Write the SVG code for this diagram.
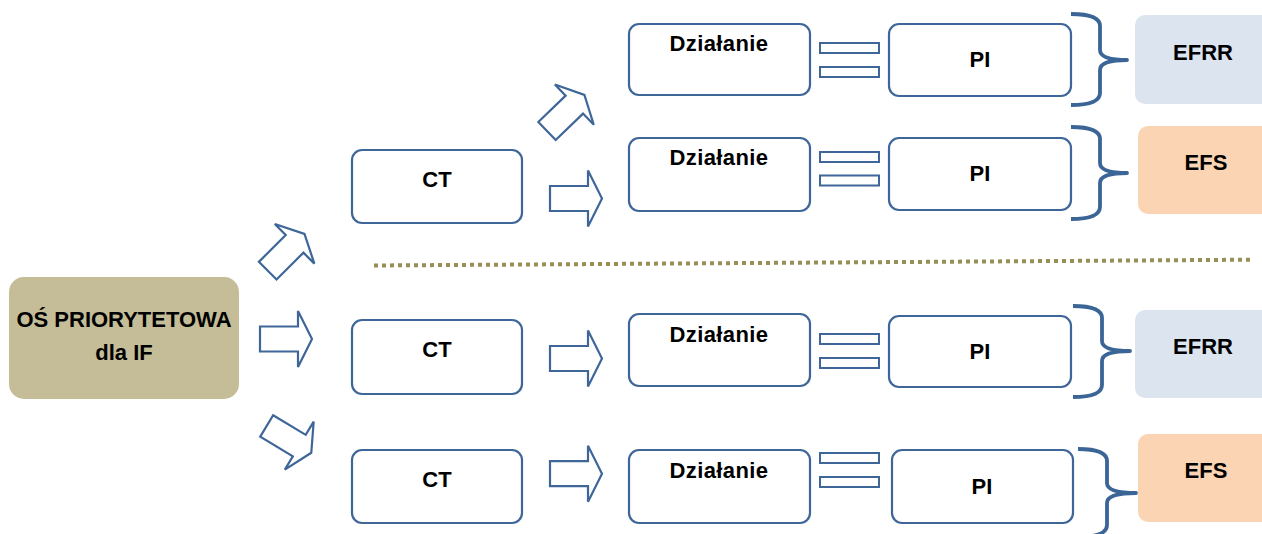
<svg xmlns="http://www.w3.org/2000/svg" xmlns:xlink="http://www.w3.org/1999/xlink" width="1262" height="534" viewBox="0 0 1262 534">
<style>
  .box{fill:#ffffff;stroke:#3E6699;stroke-width:2.2}
  .lbl{font-family:"Liberation Sans",Arial,sans-serif;font-weight:bold;font-size:22px;fill:#000000;text-anchor:middle}
  .sp{letter-spacing:0.4px}
  .arrow{fill:#ffffff;stroke:#3E6699;stroke-width:2.2;stroke-linejoin:miter}
  .eq{fill:#ffffff;stroke:#3E6699;stroke-width:2}
  .brace{fill:none;stroke:#3B6497;stroke-width:3.8;stroke-linecap:butt;stroke-linejoin:round}
  .sep{stroke:#988E56;stroke-width:4;stroke-dasharray:4 4;fill:none}
</style>
<defs>
  <path id="blk" d="M0,-12.5 H38 V-28 L52,0 L38,28 V12.5 H0 Z"/>
</defs>
<rect width="1262" height="534" fill="#ffffff"/>

<g id="separator">
  <line class="sep" x1="374" y1="265.5" x2="1252" y2="259.7"/>
</g>

<g id="os">
  <rect x="9" y="277" width="230" height="122" rx="15" fill="#C4BD97"/>
  <text class="lbl" x="124" y="327">OŚ PRIORYTETOWA</text>
  <text class="lbl" x="124" y="360">dla IF</text>
</g>

<g id="ct1"><rect class="box" x="352" y="150" width="170" height="73" rx="10"/><text class="lbl" x="437" y="187">CT</text></g>
<g id="ct2"><rect class="box" x="352" y="320" width="170" height="74" rx="10"/><text class="lbl" x="437" y="357">CT</text></g>
<g id="ct3"><rect class="box" x="352" y="450" width="170" height="73" rx="10"/><text class="lbl" x="437" y="487">CT</text></g>

<g id="dz1"><rect class="box" x="629" y="24" width="181" height="71" rx="10"/><text class="lbl sp" x="719" y="51">Działanie</text></g>
<g id="dz2"><rect class="box" x="629" y="138" width="181" height="73" rx="10"/><text class="lbl sp" x="719" y="165">Działanie</text></g>
<g id="dz3"><rect class="box" x="629" y="314" width="181" height="72" rx="10"/><text class="lbl sp" x="719" y="342">Działanie</text></g>
<g id="dz4"><rect class="box" x="629" y="450" width="181" height="73" rx="10"/><text class="lbl sp" x="719" y="478">Działanie</text></g>

<g id="pi1"><rect class="box" x="889" y="24" width="182" height="72" rx="10"/><text class="lbl" x="980" y="67">PI</text></g>
<g id="pi2"><rect class="box" x="889" y="138" width="182" height="72" rx="10"/><text class="lbl" x="980" y="181">PI</text></g>
<g id="pi3"><rect class="box" x="889" y="316" width="182" height="71" rx="10"/><text class="lbl" x="980" y="359">PI</text></g>
<g id="pi4"><rect class="box" x="892" y="450" width="181" height="73" rx="10"/><text class="lbl" x="982" y="494">PI</text></g>

<g id="efrr1"><rect x="1135" y="15" width="140" height="89" rx="10" fill="#DCE4F0"/><text class="lbl" x="1203" y="60">EFRR</text></g>
<g id="efs1"><rect x="1138" y="126" width="140" height="88" rx="10" fill="#FBD4B4"/><text class="lbl" x="1206" y="170">EFS</text></g>
<g id="efrr2"><rect x="1135" y="310" width="140" height="88" rx="10" fill="#DCE4F0"/><text class="lbl" x="1203" y="354">EFRR</text></g>
<g id="efs2"><rect x="1138" y="434" width="140" height="88" rx="10" fill="#FBD4B4"/><text class="lbl" x="1206" y="478">EFS</text></g>

<g id="connectors">
  <use xlink:href="#blk" class="arrow" transform="translate(267.7,270.7) rotate(-45)"/>
  <use xlink:href="#blk" class="arrow" transform="translate(260,339)"/>
  <use xlink:href="#blk" class="arrow" transform="translate(266.7,426) rotate(31)"/>
  <use xlink:href="#blk" class="arrow" transform="translate(547,131) rotate(-44)"/>
  <use xlink:href="#blk" class="arrow" transform="translate(550,198.5)"/>
  <use xlink:href="#blk" class="arrow" transform="translate(550,358.5)"/>
  <use xlink:href="#blk" class="arrow" transform="translate(550,473.7)"/>

  <rect class="eq" x="820" y="43" width="59" height="10"/>
  <rect class="eq" x="820" y="67" width="59" height="10"/>
  <rect class="eq" x="820" y="152" width="59" height="10"/>
  <rect class="eq" x="820" y="175.5" width="59" height="10"/>
  <rect class="eq" x="820" y="334" width="59" height="10"/>
  <rect class="eq" x="820" y="358" width="59" height="10"/>
  <rect class="eq" x="820" y="453" width="59" height="10"/>
  <rect class="eq" x="820" y="477" width="59" height="10"/>

  <path class="brace" d="M1071,14 Q1100,14 1100,26 V50 Q1100,60 1127,60 Q1100,60 1100,70 V93 Q1100,105 1071,105"/>
  <path class="brace" d="M1071,127 Q1100,127 1100,139 V163 Q1100,173 1127,173 Q1100,173 1100,183 V207 Q1100,219 1071,219"/>
  <path class="brace" d="M1073,306 Q1102,306 1102,318 V341 Q1102,351 1130,351 Q1102,351 1102,361 V385 Q1102,397 1073,397"/>
  <path class="brace" d="M1078,449 Q1107,449 1107,461 V483 Q1107,493 1136,493 Q1107,493 1107,503 V525 Q1107,537 1078,537"/>
</g>
</svg>
